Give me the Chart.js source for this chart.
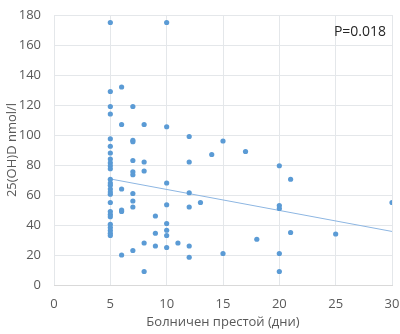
<!DOCTYPE html>
<html>
<head>
<meta charset="utf-8">
<script src="https://cdn.jsdelivr.net/npm/chart.js@4/dist/chart.umd.min.js"></script>
<style>
  html, body { margin: 0; padding: 0; background: #fff; overflow: hidden; }
  canvas { display: block; }
</style>
</head>
<body>
<canvas id="c" width="400" height="334"></canvas>
<script>
// Hospital stay (days) for each patient
const stayDays = [
  5, 5, 5, 5, 5, 5, 5, 5, 5, 5, 5, 5, 5, 5, 5, 5, 5, 5, 5, 5, 5, 5, 5, 5, 5, 5,
  6, 6, 6, 6, 6, 6,
  7, 7, 7, 7, 7, 7, 7, 7, 7, 7,
  8, 8, 8, 8, 8,
  9, 9, 9,
  10, 10, 10, 10, 10, 10, 10, 10,
  11,
  12, 12, 12, 12, 12, 12,
  13,
  14,
  15, 15,
  17,
  18,
  20, 20, 20, 20, 20,
  21, 21,
  25,
  30
];

// Serum 25(OH)D, nmol/l, same order as stayDays
const vitaminD = [
  175, 129, 119, 114, 97.5, 92.5, 88, 84, 81.5, 79.5, 77.5, 70.5, 68, 66.5, 64, 62, 60.5, 55, 49, 47, 45.5, 40.5, 38.3, 36.3, 34.5, 33,
  132, 107, 64, 50, 49, 20,
  119, 96.5, 95.5, 83, 75.5, 73.5, 61, 56, 52, 23,
  107, 82, 76, 28, 9,
  46, 34.5, 26,
  175, 105.5, 68, 53.5, 41, 36.5, 33, 25,
  28,
  99, 82, 61.5, 52, 26, 18.5,
  55,
  87,
  96, 21,
  89,
  30.5,
  79.5, 53, 51, 21, 9,
  70.5, 35,
  34,
  55
];

// Linear trend endpoints
const trendDays = [5, 30];
const trendVitaminD = [70.7, 35.7];

const pLabel = 'P=0.018';
const xTitle = 'Болничен престой (дни)';
const yTitle = '25(OH)D nmol/l';

const points = stayDays.map((d, i) => ({ x: d, y: vitaminD[i] }));
const trend = trendDays.map((d, i) => ({ x: d, y: trendVitaminD[i] }));

const FONT = "'Open Sans', 'Noto Sans', sans-serif";
const GRID = '#e4e7ea';
const TICK = '#595959';
const NONE = 'rgba(0,0,0,0)';

const annotationText = {
  id: 'annotationText',
  afterDatasetsDraw(chart) {
    const { ctx, chartArea } = chart;
    ctx.save();
    ctx.font = `14px ${FONT}`;
    ctx.fillStyle = '#262626';
    ctx.textAlign = 'right';
    ctx.textBaseline = 'middle';
    ctx.fillText(pLabel, chartArea.right - 6, chartArea.top + 17);
    ctx.restore();
  }
};

new Chart(document.getElementById('c'), {
  type: 'scatter',
  data: {
    datasets: [
      {
        label: 'trend',
        type: 'line',
        data: trend,
        borderColor: '#8db6e2',
        borderWidth: 1,
        pointRadius: 0,
        fill: false,
        order: 2
      },
      {
        label: '25(OH)D',
        data: points,
        backgroundColor: '#5b9bd5',
        borderColor: '#5b9bd5',
        pointRadius: 2.6,
        pointHoverRadius: 2.6,
        borderWidth: 0,
        order: 1
      }
    ]
  },
  options: {
    responsive: false,
    animation: false,
    layout: { autoPadding: false, padding: { left: 0, right: 8, top: 15, bottom: 0 } },
    plugins: {
      legend: { display: false },
      tooltip: { enabled: false }
    },
    scales: {
      x: {
        type: 'linear',
        min: 0,
        max: 30,
        ticks: {
          stepSize: 5,
          color: TICK,
          font: { family: FONT, size: 13 },
          padding: 0,
          maxRotation: 0
        },
        grid: { color: GRID, drawTicks: true, tickLength: 11, tickColor: NONE },
        border: { display: true, color: '#d9d9d9' },
        title: {
          display: true,
          text: xTitle,
          color: TICK,
          font: { family: FONT, size: 13 },
          padding: { top: 2, bottom: 4 }
        },
        afterFit(scale) { scale.height = 49; }
      },
      y: {
        min: 0,
        max: 180,
        ticks: {
          stepSize: 20,
          color: TICK,
          font: { family: FONT, size: 13 },
          padding: 0
        },
        grid: { color: GRID, drawTicks: true, tickLength: 13, tickColor: NONE },
        border: { display: false },
        title: {
          display: true,
          text: yTitle,
          color: TICK,
          font: { family: FONT, size: 13 },
          padding: { top: 4, bottom: 2 }
        },
        afterFit(scale) { scale.width = 54; }
      }
    }
  },
  plugins: [annotationText]
});
</script>
</body>
</html>
